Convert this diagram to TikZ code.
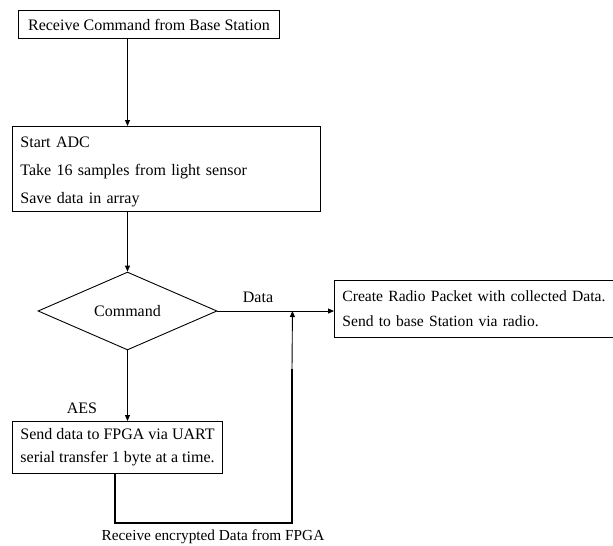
\documentclass[tikz,border=0pt]{standalone}
\usepackage{fontspec}
\setmainfont{Liberation Serif}
\usetikzlibrary{arrows.meta,shapes.geometric,calc}

\tikzset{
  every node/.style={font=\fontsize{16}{19}\selectfont},
  procbox/.style={draw, line width=0.9pt, inner xsep=8pt, inner ysep=0pt, align=left},
  decision/.style={draw, diamond, line width=0.9pt, inner sep=0pt,
                   minimum width=179pt, minimum height=54pt},
  flow/.style={line width=0.9pt, -{Triangle[length=6pt,width=5pt]}},
  returnline/.style={line width=2.4pt},
  lbl/.style={inner sep=0pt}
}

\begin{document}
\begin{tikzpicture}[x=1pt,y=-1pt]
  \useasboundingbox (0,0) rectangle (613,546);

  % process boxes
  \node[procbox, anchor=north west, minimum width=261pt, minimum height=28pt, align=center]
    (b1) at (18,10) {Receive Command from Base Station};
  \node[procbox, anchor=north west, text width=292pt, minimum height=85pt,
        font=\fontsize{16}{28}\selectfont]
    (b2) at (12,126) {\rule{0pt}{17pt}Start ADC\\Take 16 samples from light sensor\\Save data in array};
  \node[decision] (d) at (127.5,311) {Command};
  \node[procbox, anchor=north west, text width=290pt, minimum height=57pt,
        font=\fontsize{15.6}{25}\selectfont]
    (b3) at (334,280) {Create Radio Packet with collected Data.\\Send to base Station via radio.};
  \node[procbox, anchor=north west, minimum width=209pt, minimum height=52pt,
        font=\fontsize{16}{23}\selectfont]
    (b4) at (12,421) {Send data to FPGA via UART\\serial transfer 1 byte at a time.};

  % branch labels
  \node[lbl] (ldata) at (258,297) {Data};
  \node[lbl] (laes) at (82,408) {AES};
  \node[lbl, font=\fontsize{15.3}{18}\selectfont] (lrecv) at (213,537) {Receive encrypted Data from FPGA};

  % main flow
  \draw[flow] (b1.south -| d.north) -- (b2.north -| d.north);
  \draw[flow] (b2.south -| d.north) -- (d.north);
  \draw[flow] (d.east) -- (d.east -| b3.west);
  \draw[flow] (d.south) -- (b4.north -| d.south);

  % return path from the FPGA
  \coordinate (j) at ($(d.east)+(75,0)$);
  \coordinate (bl) at (115,523);
  \coordinate (br) at (292,523);
  \coordinate (jt) at (292,369);
  \draw[returnline] (b4.south -| bl) -- (bl) -- (br) -- (jt);
  \draw[flow] (jt) -- (j);
\end{tikzpicture}
\end{document}
